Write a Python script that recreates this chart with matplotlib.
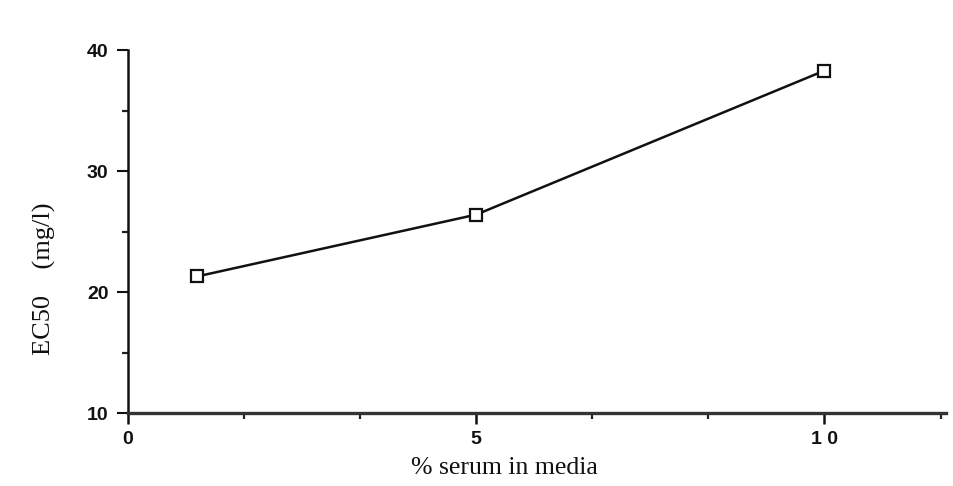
import numpy as np
import matplotlib
matplotlib.use('Agg')
import matplotlib.pyplot as plt
from matplotlib.ticker import FixedLocator

# data
serum = [1, 5, 10]
ec50 = [21.3, 26.4, 38.3]

x_major = [0, 5, 10]
x_major_labels = ['0', '5', '1 0']
x_minor = [5/3, 10/3, 20/3, 25/3, 35/3]
y_major = [10, 20, 30, 40]
y_minor = [15, 25, 35]

tick_font = ['Liberation Sans Narrow', 'Liberation Sans', 'DejaVu Sans']
label_font = ['Liberation Serif', 'DejaVu Serif']

fig = plt.figure(figsize=(9.54, 4.86), dpi=100)
ax = fig.add_axes([0.134, 0.150, 0.858, 0.747])

ax.plot(serum, ec50, color='#111111', lw=1.8,
        marker='s', markersize=8, markerfacecolor='white',
        markeredgecolor='#111111', markeredgewidth=1.6)

ax.set_xlim(0, 11.75)
ax.set_ylim(10, 40)

ax.spines['top'].set_visible(False)
ax.spines['right'].set_visible(False)
ax.spines['left'].set_linewidth(1.8)
ax.spines['left'].set_color('#111111')
ax.spines['bottom'].set_linewidth(2.4)
ax.spines['bottom'].set_color('#333333')

ax.xaxis.set_major_locator(FixedLocator(x_major))
ax.xaxis.set_minor_locator(FixedLocator(x_minor))
ax.set_xticklabels(x_major_labels)
ax.yaxis.set_major_locator(FixedLocator(y_major))
ax.yaxis.set_minor_locator(FixedLocator(y_minor))

ax.tick_params(axis='x', which='major', direction='out', length=8, width=1.8,
               pad=5, color='#111111')
ax.tick_params(axis='x', which='minor', direction='out', length=4, width=1.6,
               color='#222222')
ax.tick_params(axis='y', which='major', direction='out', length=8, width=1.5,
               pad=6, color='#111111')
ax.tick_params(axis='y', which='minor', direction='out', length=4, width=1.6,
               color='#222222')

for lab in ax.get_xticklabels() + ax.get_yticklabels():
    lab.set_family(tick_font)
    lab.set_fontweight('bold')
    lab.set_fontsize(14)
    lab.set_color('#111111')

ax.set_xlabel('% serum in media', family=label_font, fontsize=18.5,
              color='#111111')
ax.xaxis.set_label_coords(0.46, -0.12)
ax.set_ylabel('EC50    (mg/l)', family=label_font, fontsize=19,
              color='#111111')
ax.yaxis.set_label_coords(-0.088, 0.37)

fig.savefig('out.png', dpi=100, facecolor='white')
